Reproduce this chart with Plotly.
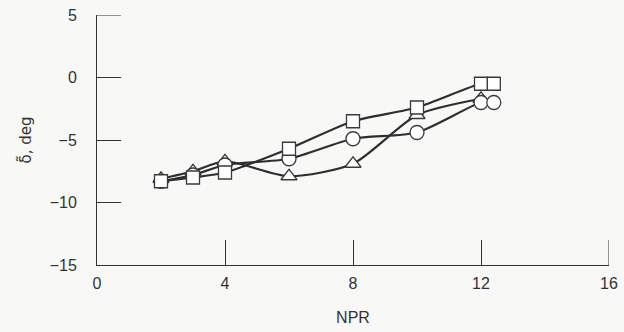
import plotly.graph_objects as go

# Data
npr_sq = [2, 3, 4, 6, 8, 10, 12, 12.4]
delta_sq = [-8.3, -8.0, -7.6, -5.7, -3.5, -2.4, -0.5, -0.5]

npr_ci = [2, 3, 4, 6, 8, 10, 12, 12.4]
delta_ci = [-8.3, -7.8, -7.0, -6.5, -4.9, -4.4, -2.0, -2.0]

npr_tr = [2, 3, 4, 6, 8, 10, 12]
delta_tr = [-8.1, -7.5, -6.7, -7.9, -6.9, -3.0, -1.7]

x_ticks = [0, 4, 8, 12, 16]
y_ticks = [5, 0, -5, -10, -15]

line_col = "#2e2e2e"
bg = "#f8f8f7"

fig = go.Figure()

def add(x, y, sym, size):
    fig.add_trace(go.Scatter(
        x=x, y=y, mode="lines+markers",
        line=dict(color=line_col, width=2.2, shape="spline", smoothing=0.7),
        marker=dict(symbol=sym, size=size, color="white",
                    line=dict(color="#3a3a3a", width=1.3)),
        showlegend=False, cliponaxis=False, hoverinfo="skip",
    ))

add(npr_tr, delta_tr, "triangle-up", 14)
add(npr_ci, delta_ci, "circle", 14)
add(npr_sq, delta_sq, "square", 13)

font = dict(family="Liberation Sans, Arial, sans-serif", size=16, color="#333")
yfont = dict(family="DejaVu Sans, sans-serif", size=15, color="#333")

# end-of-axis ticks that plotly hides (at x max and y max)
fig.add_shape(type="line", xref="x", yref="y", x0=x_ticks[-1], x1=x_ticks[-1],
              ysizemode="pixel", yanchor=y_ticks[-1], y0=0, y1=25,
              line=dict(color="#333", width=1))
fig.add_shape(type="line", xref="x", yref="y", y0=y_ticks[0], y1=y_ticks[0],
              xsizemode="pixel", xanchor=x_ticks[0], x0=0, x1=24,
              line=dict(color="#333", width=1))

fig.update_layout(
    width=624, height=332,
    margin=dict(l=97, r=15, t=15, b=67),
    paper_bgcolor=bg, plot_bgcolor=bg,
    font=font,
    xaxis=dict(range=[0, 16], tickvals=x_ticks, ticks="inside", ticklen=25,
               tickwidth=1, tickcolor="#333", showline=True, linecolor="#333",
               linewidth=1, showgrid=False, zeroline=False, mirror=False,
               ticklabelstandoff=4, automargin=False,
               title=dict(text="NPR", standoff=20, font=font)),
    yaxis=dict(range=[-15, 5], tickvals=y_ticks, ticks="inside", ticklen=24,
               tickwidth=1, tickcolor="#333", showline=True, linecolor="#333",
               linewidth=1, showgrid=False, zeroline=False,
               ticklabelstandoff=16, automargin=False,
               title=dict(text="δ̃, deg", standoff=14, font=yfont)),
)

fig.write_html("out.html",
               config={"displayModeBar": False, "staticPlot": True},
               post_script="document.body.style.margin='0';document.body.style.background='%s';" % bg)
